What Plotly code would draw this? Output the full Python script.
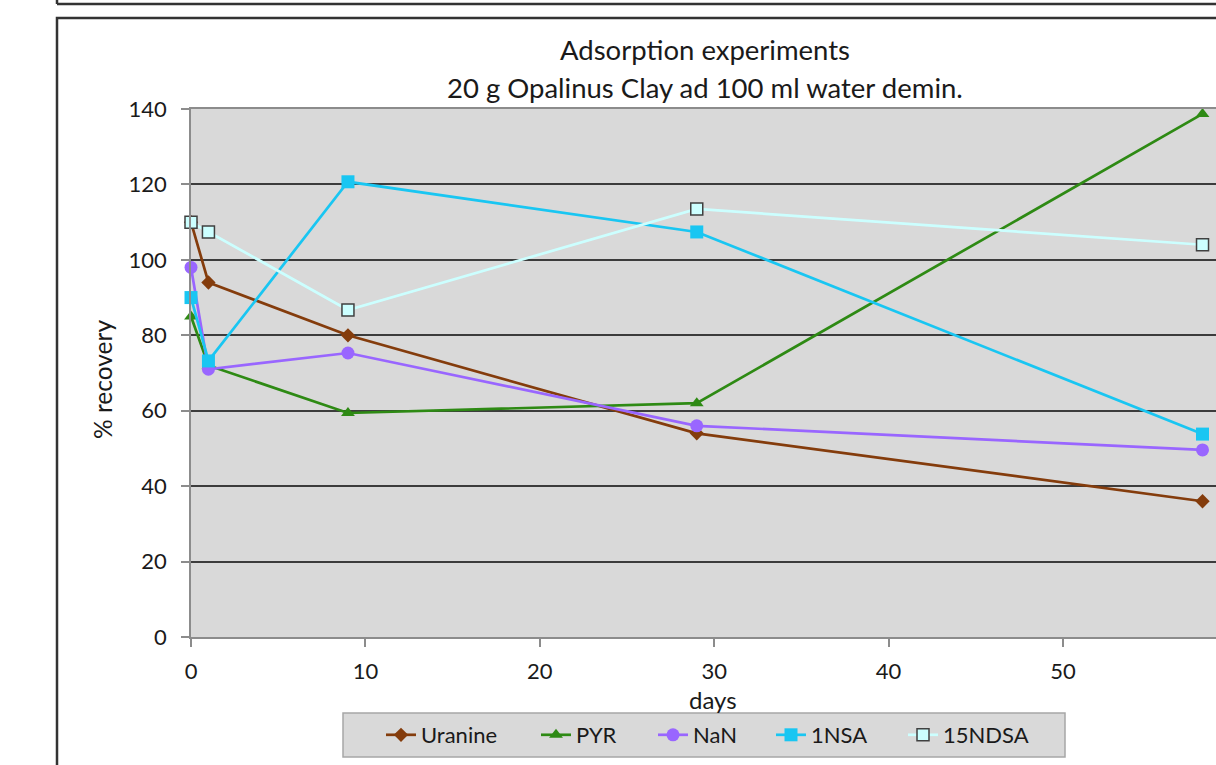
import plotly.graph_objects as go

days = [0, 1, 9, 29, 58]
uranine = [110, 94, 80, 54, 36]
pyr = [85, 72, 59.4, 62, 138.7]
nan_ = [98, 71, 75.3, 56, 49.6]
nsa1 = [90, 73.2, 120.7, 107.4, 53.8]
ndsa15 = [110, 107.4, 86.7, 113.5, 104]

names = ["Uranine", "PYR", "NaN", "1NSA", "15NDSA"]
series = [uranine, pyr, nan_, nsa1, ndsa15]
line_colors = ["#843c0c", "#2e8a14", "#9966ff", "#19c6f2", "#ccffff"]
marker_symbols = ["diamond", "triangle-up", "circle", "square", "square"]
marker_sizes = [11, 12, 13, 13, 12]
marker_fill = ["#843c0c", "#2e8a14", "#9966ff", "#19c6f2", "#ccffff"]
marker_line = ["#843c0c", "#2e8a14", "#9966ff", "#19c6f2", "#404040"]
legend_px = [388, 543, 660, 778, 910]

L, T, R, B = 191, 109, 1216, 637
W = R - L
H = B - T
def xp(px):
    return (px - L) / W
def yp(py):
    return (B - py) / H

FONT = "Lato"
fig = go.Figure()
for i, (n, s) in enumerate(zip(names, series)):
    lg = "legend" if i == 0 else f"legend{i+1}"
    fig.add_trace(go.Scatter(
        x=days, y=s, name=n, mode="lines+markers", cliponaxis=False,
        line=dict(color=line_colors[i], width=2.7),
        marker=dict(symbol=marker_symbols[i], size=marker_sizes[i],
                    color=marker_fill[i],
                    line=dict(color=marker_line[i], width=1.5 if i == 4 else 0)),
        legend=lg,
    ))

legends = {}
for i, px in enumerate(legend_px):
    key = "legend" if i == 0 else f"legend{i+1}"
    legends[key] = dict(
        x=xp(px - 7), y=yp(735), xanchor="left", yanchor="middle",
        bgcolor="rgba(0,0,0,0)", borderwidth=0,
        font=dict(family=FONT, size=22, color="#1a1a1a"),
        orientation="h",
    )

shapes = [
    dict(type="line", xref="paper", yref="paper", x0=xp(57), x1=1.1, y0=yp(4), y1=yp(4),
         line=dict(color="#333333", width=2.5)),
    dict(type="line", xref="paper", yref="paper", x0=xp(57), x1=xp(57), y0=yp(-20), y1=yp(4),
         line=dict(color="#333333", width=2.5)),
    dict(type="rect", xref="paper", yref="paper", x0=xp(57), x1=1.1, y0=yp(800), y1=yp(18),
         line=dict(color="#333333", width=2.5), fillcolor="rgba(0,0,0,0)"),
    dict(type="rect", xref="paper", yref="paper", x0=xp(343), x1=xp(1065), y0=yp(757), y1=yp(713),
         line=dict(color="#a6a6a6", width=1.5), fillcolor="#d9d9d9"),
]

annotations = [
    dict(text="Adsorption experiments", x=xp(705), y=yp(50), xref="paper", yref="paper",
         showarrow=False, xanchor="center", yanchor="middle",
         font=dict(family=FONT, size=27.5, color="#1a1a1a")),
    dict(text="20 g Opalinus Clay ad 100 ml water demin.", x=xp(705), y=yp(88), xref="paper", yref="paper",
         showarrow=False, xanchor="center", yanchor="middle",
         font=dict(family=FONT, size=27.5, color="#1a1a1a")),
    dict(text="% recovery", x=xp(103), y=yp(380), xref="paper", yref="paper",
         showarrow=False, textangle=-90, xanchor="center", yanchor="middle",
         font=dict(family=FONT, size=24.5, color="#1a1a1a")),
    dict(text="days", x=xp(713), y=yp(699), xref="paper", yref="paper",
         showarrow=False, xanchor="center", yanchor="middle",
         font=dict(family=FONT, size=24, color="#1a1a1a")),
]

fig.update_layout(
    width=1216, height=765,
    margin=dict(l=L, r=1216 - R, t=T, b=765 - B, pad=0),
    paper_bgcolor="white", plot_bgcolor="#d9d9d9",
    showlegend=True,
    shapes=shapes, annotations=annotations,
    **legends,
)
fig.update_xaxes(range=[0, (1216 - 191) / 17.44], tickvals=[0, 10, 20, 30, 40, 50],
                 showgrid=False, zeroline=False, showline=True, mirror=True,
                 linecolor="#8c8c8c", linewidth=1.5, ticks="outside", ticklen=8,
                 tickcolor="#8c8c8c", tickwidth=1.5, ticklabelstandoff=6,
                 tickfont=dict(family=FONT, size=22, color="#1a1a1a"))
fig.update_yaxes(range=[0, 140], tickvals=[0, 20, 40, 60, 80, 100, 120, 140],
                 showgrid=True, gridcolor="#3c3c3c", gridwidth=1.8, zeroline=False,
                 showline=True, linecolor="#8c8c8c", linewidth=1.5,
                 ticks="outside", ticklen=8, tickcolor="#8c8c8c", tickwidth=1.5,
                 ticklabelstandoff=10,
                 tickfont=dict(family=FONT, size=22, color="#1a1a1a"))

fig.write_html("out.html", config={"displayModeBar": False},
               post_script="document.body.style.margin='0px';document.body.style.overflow='hidden';")
